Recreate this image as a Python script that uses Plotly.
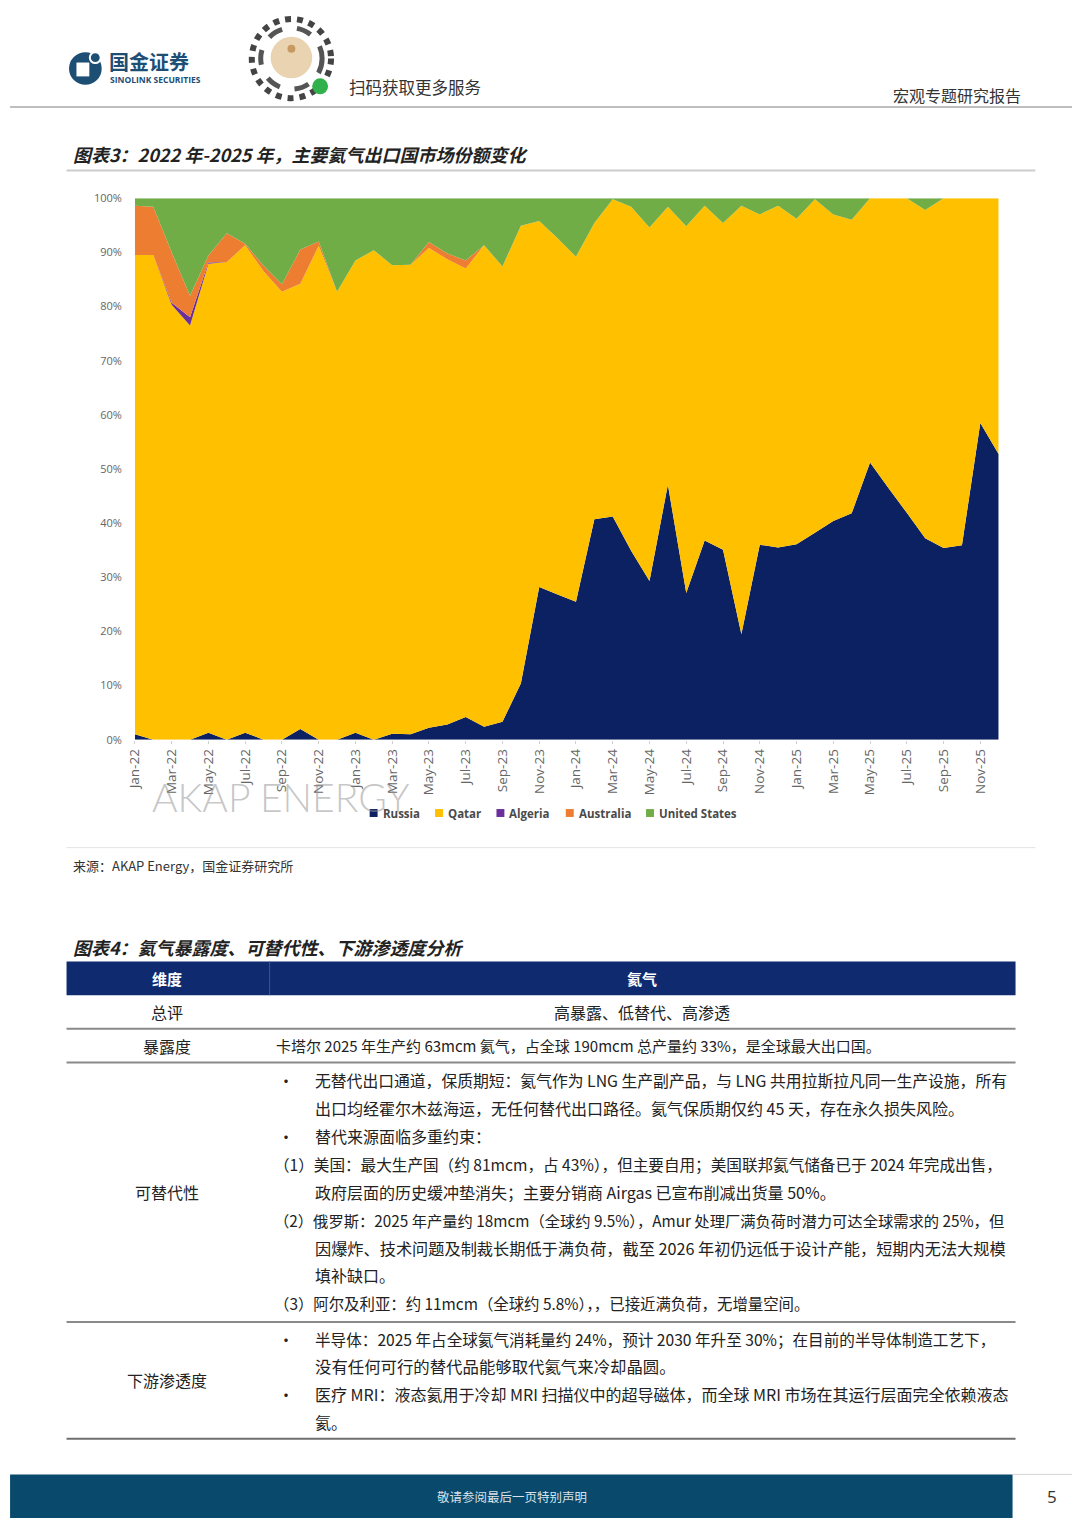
import plotly.graph_objects as go

# The page body keeps an 8px margin; size the figure so page == window (1080x1527)
OFF = 8
W, H = 1080 - 2 * OFF, 1527 - 2 * OFF


def X(p):
    return (p - OFF) / W


def Y(p):
    return 1 - (p - OFF) / H


# ---------------- data ----------------
months = [
    "Jan-22", "Feb-22", "Mar-22", "Apr-22", "May-22", "Jun-22", "Jul-22", "Aug-22", "Sep-22", "Oct-22", "Nov-22", "Dec-22",
    "Jan-23", "Feb-23", "Mar-23", "Apr-23", "May-23", "Jun-23", "Jul-23", "Aug-23", "Sep-23", "Oct-23", "Nov-23", "Dec-23",
    "Jan-24", "Feb-24", "Mar-24", "Apr-24", "May-24", "Jun-24", "Jul-24", "Aug-24", "Sep-24", "Oct-24", "Nov-24", "Dec-24",
    "Jan-25", "Feb-25", "Mar-25", "Apr-25", "May-25", "Jun-25", "Jul-25", "Aug-25", "Sep-25", "Oct-25", "Nov-25", "Dec-25",
]
tick_labels = [
    "Jan-22", "Mar-22", "May-22", "Jul-22", "Sep-22", "Nov-22",
    "Jan-23", "Mar-23", "May-23", "Jul-23", "Sep-23", "Nov-23",
    "Jan-24", "Mar-24", "May-24", "Jul-24", "Sep-24", "Nov-24",
    "Jan-25", "Mar-25", "May-25", "Jul-25", "Sep-25", "Nov-25",
]
y_ticks = [0, 10, 20, 30, 40, 50, 60, 70, 80, 90, 100]
y_tick_labels = ["0%", "10%", "20%", "30%", "40%", "50%", "60%", "70%", "80%", "90%", "100%"]

russia = [1.0, 0, 0, 0, 1.3, 0, 1.3, 0, 0, 2.0, 0, 0,
          1.3, 0, 1.1, 1.0, 2.2, 2.8, 4.2, 2.4, 3.3, 10.4, 28.2, 26.8,
          25.5, 40.7, 41.2, 34.9, 29.3, 47.1, 27.1, 36.8, 35.1, 19.5, 36.0, 35.5,
          36.1, 38.2, 40.4, 41.8, 51.2, 46.5, 41.9, 37.2, 35.4, 35.9, 58.5, 52.7]
qatar = [88.5, 89.5, 80.3, 76.5, 86.6, 88.2, 90.0, 86.5, 82.7, 82.2, 91.2, 82.7,
         87.2, 90.4, 86.5, 86.7, 88.6, 85.9, 82.8, 88.9, 84.1, 84.5, 67.6, 65.8,
         63.7, 54.7, 58.6, 63.5, 65.3, 51.3, 67.7, 61.8, 60.3, 79.1, 61.0, 63.1,
         60.1, 61.6, 56.6, 54.2, 48.8, 53.5, 58.1, 60.6, 64.6, 64.1, 41.5, 47.3]
algeria = [0, 0, 0.4, 1.5, 0.2, 0, 0, 0, 0, 0, 0, 0,
           0, 0, 0, 0, 0, 0, 0, 0, 0, 0, 0, 0,
           0, 0, 0, 0, 0, 0, 0, 0, 0, 0, 0, 0,
           0, 0, 0, 0, 0, 0, 0, 0, 0, 0, 0, 0]
australia = [9.1, 8.9, 9.3, 4.0, 1.3, 5.3, 0.3, 1.0, 1.4, 6.3, 0.8, 0,
             0, 0, 0, 0, 1.1, 1.1, 1.5, 0, 0, 0, 0, 0,
             0, 0, 0, 0, 0, 0, 0, 0, 0, 0, 0, 0,
             0, 0, 0, 0, 0, 0, 0, 0, 0, 0, 0, 0]
united_states = [1.4, 1.6, 10.0, 18.0, 10.6, 6.5, 8.4, 12.5, 15.9, 9.5, 8.0, 17.3,
                 11.5, 9.6, 12.4, 12.3, 8.1, 10.2, 11.5, 8.7, 12.6, 5.1, 4.2, 7.4,
                 10.8, 4.6, 0.2, 1.6, 5.4, 1.6, 5.2, 1.4, 4.6, 1.4, 3.0, 1.4,
                 3.8, 0.2, 3.0, 4.0, 0, 0, 0, 2.2, 0, 0, 0, 0]

series_names = ["Russia", "Qatar", "Algeria", "Australia", "United States"]
series_values = [russia, qatar, algeria, australia, united_states]
series_colors = ["#0b2161", "#ffc000", "#6a2f9a", "#ed7d31", "#70ad47"]

# ---------------- figure ----------------
fig = go.Figure()
for name, vals, col in zip(series_names, series_values, series_colors):
    fig.add_trace(go.Scatter(
        x=months, y=vals, name=name, stackgroup="one", mode="none",
        fillcolor=col, showlegend=False, hoverinfo="skip",
    ))

xtick_font = dict(family="Open Sans, Lato, sans-serif", size=13.5, color="#666666")
ytick_font = dict(family="Open Sans, Lato, sans-serif", size=11, color="#666666")

fig.update_layout(
    width=W, height=H,
    margin=dict(l=0, r=0, t=0, b=0),
    paper_bgcolor="white", plot_bgcolor="white",
    showlegend=False,
    xaxis=dict(
        domain=[X(126), X(998)], type="category", range=[0, 47],
        tickmode="array", tickvals=tick_labels, ticktext=tick_labels,
        tickangle=-90, tickfont=xtick_font, showgrid=False, zeroline=False,
        showline=False, ticks="outside", ticklen=3, tickcolor="#d0d0d0",
        fixedrange=True,
    ),
    yaxis=dict(
        domain=[Y(739), Y(192)], range=[0, 100],
        tickmode="array", tickvals=y_ticks, ticktext=y_tick_labels,
        tickfont=ytick_font, showgrid=False, zeroline=False, showline=False,
        ticks="", ticklabelstandoff=12, fixedrange=True,
    ),
)

shapes = []
ann = []
CJK = "Noto Sans CJK SC, sans-serif"


def text(x, y, s, size=16, color="#222222", xanchor="left", bold=False, italic=False, family=CJK, weight=None):
    f = dict(family=family, size=size, color=color)
    if bold:
        f["weight"] = "bold"
    if weight is not None:
        f["weight"] = weight
    if italic:
        f["style"] = "italic"
    ann.append(dict(x=X(x), y=Y(y), xref="paper", yref="paper", text=s, showarrow=False,
                    xanchor=xanchor, yanchor="middle", font=f))


def hline(x0, x1, y, color="#999999", width=1.5):
    shapes.append(dict(type="line", xref="paper", yref="paper", x0=X(x0), x1=X(x1), y0=Y(y), y1=Y(y),
                       line=dict(color=color, width=width)))


def rect(x0, y0, x1, y1, fill):
    shapes.append(dict(type="rect", xref="paper", yref="paper", x0=X(x0), x1=X(x1), y0=Y(y1), y1=Y(y0),
                       fillcolor=fill, line=dict(color=fill, width=0), layer="above"))


def circle(cx, cy, r, fill="rgba(0,0,0,0)", line_color=None, line_width=0, dash="solid"):
    shapes.append(dict(type="circle", xref="paper", yref="paper", x0=X(cx - r), x1=X(cx + r),
                       y0=Y(cy + r), y1=Y(cy - r), fillcolor=fill,
                       line=dict(color=line_color or "rgba(0,0,0,0)", width=line_width, dash=dash), layer="above"))


# ---------------- header ----------------
circle(76, 61, 16.5, fill="#1d4e74")
rect(67, 55, 80, 69, "white")
circle(86, 50, 5.5, fill="#1d4e74", line_color="white", line_width=2)
text(98, 54, "国金证券", size=20, color="#1d4e74", bold=True)
text(99, 72, "SINOLINK SECURITIES", size=8.5, color="#1d4e74", bold=True, family="Open Sans, sans-serif")

# mini-program code (approximation)
circle(284, 51, 40, line_color="#444444", line_width=6, dash="dot")
circle(284, 51, 31, line_color="#555555", line_width=5, dash="dash")
circle(284, 50, 21, fill="#ead3b0")
circle(284, 41, 4, fill="#c79a62")
circle(313, 79, 8, fill="#30b14c")
text(340, 80, "扫码获取更多服务", size=16.5, color="#333333")
text(1023, 88, "宏观专题研究报告", size=16, color="#333333", xanchor="right")
hline(0, 1080, 100, color="#a8a8a8", width=1.5)

# ---------------- chart title / legend / source ----------------
text(61, 147, "图表3：2022 年-2025 年，主要氦气出口国市场份额变化", size=18, color="#222222", bold=True, italic=True)
hline(57, 1035, 164, color="#cccccc", width=2)
text(141, 797, "AKAP ENERGY", size=39, color="rgba(150,150,150,0.55)", family="Lato, Open Sans, sans-serif", weight=300)

legend_x = [363, 429, 491, 561, 642]
for lx, name, col in zip(legend_x, series_names, series_colors):
    rect(lx, 809, lx + 8, 817, col)
    text(lx + 11, 813, name, size=11.5, color="#4a4a4a", bold=True, family="Open Sans, sans-serif")

hline(57, 1035, 848, color="#e2e2e2", width=1)
text(61, 866, "来源：AKAP Energy，国金证券研究所", size=13, color="#333333")

# ---------------- table ----------------
text(61, 948, "图表4：氦气暴露度、可替代性、下游渗透度分析", size=18, color="#222222", bold=True, italic=True)
rect(57, 963, 1015, 997, "#0f2a6e")
shapes.append(dict(type="line", xref="paper", yref="paper", x0=X(262), x1=X(262), y0=Y(997), y1=Y(963),
                   line=dict(color="#3d5590", width=1)))
text(158, 980, "维度", size=15, color="white", bold=True, xanchor="center")
text(638, 980, "氦气", size=15, color="white", bold=True, xanchor="center")

text(158, 1014, "总评", xanchor="center")
text(638, 1014, "高暴露、低替代、高渗透", xanchor="center")
hline(57, 1015, 1031, color="#8a8a8a", width=2)

text(158, 1048, "暴露度", xanchor="center")
text(266, 1048, "卡塔尔 2025 年生产约 63mcm 氦气，占全球 190mcm 总产量约 33%，是全球最大出口国。", size=15)
hline(57, 1015, 1065, color="#8a8a8a", width=2)

text(158, 1196, "可替代性", xanchor="center")
sub_lines = [
    (268, 1083, "·", 16),
    (306, 1083, "无替代出口通道，保质期短：氦气作为 LNG 生产副产品，与 LNG 共用拉斯拉凡同一生产设施，所有", 15.8),
    (306, 1111, "出口均经霍尔木兹海运，无任何替代出口路径。氦气保质期仅约 45 天，存在永久损失风险。", 16),
    (268, 1139, "·", 16),
    (306, 1139, "替代来源面临多重约束：", 16),
    (264, 1168, "（1）美国：最大生产国（约 81mcm，占 43%），但主要自用；美国联邦氦气储备已于 2024 年完成出售，", 15.6),
    (306, 1196, "政府层面的历史缓冲垫消失；主要分销商 Airgas 已宣布削减出货量 50%。", 16),
    (264, 1224, "（2）俄罗斯：2025 年产量约 18mcm（全球约 9.5%），Amur 处理厂满负荷时潜力可达全球需求的 25%，但", 15.3),
    (306, 1252, "因爆炸、技术问题及制裁长期低于满负荷，截至 2026 年初仍远低于设计产能，短期内无法大规模", 16.2),
    (306, 1280, "填补缺口。", 16),
    (264, 1308, "（3）阿尔及利亚：约 11mcm（全球约 5.8%），，已接近满负荷，无增量空间。", 15.4),
]
for x, y, s, sz in sub_lines:
    text(x, y, s, size=sz)
hline(57, 1015, 1327, color="#8a8a8a", width=2)

text(158, 1386, "下游渗透度", xanchor="center")
down_lines = [
    (268, 1344, "·", 16),
    (306, 1344, "半导体：2025 年占全球氦气消耗量约 24%，预计 2030 年升至 30%；在目前的半导体制造工艺下，", 15.6),
    (306, 1372, "没有任何可行的替代品能够取代氦气来冷却晶圆。", 16.4),
    (268, 1400, "·", 16),
    (306, 1400, "医疗 MRI：液态氦用于冷却 MRI 扫描仪中的超导磁体，而全球 MRI 市场在其运行层面完全依赖液态", 16),
    (306, 1428, "氦。", 16),
]
for x, y, s, sz in down_lines:
    text(x, y, s, size=sz)
hline(57, 1015, 1445, color="#6f6f6f", width=2)

# ---------------- footer ----------------
rect(0, 1481, 1012, 1525, "#08496c")
hline(1012, 1080, 1481, color="#d5d5d5", width=1)
text(507, 1503, "敬请参阅最后一页特别声明", size=12.5, color="#d8e2ea", xanchor="center")
text(1052, 1503, "5", size=17, color="#333333", xanchor="center", family="Open Sans, sans-serif")

fig.update_layout(shapes=shapes, annotations=ann)

fig.write_html("out.html", config={"displayModeBar": False})
